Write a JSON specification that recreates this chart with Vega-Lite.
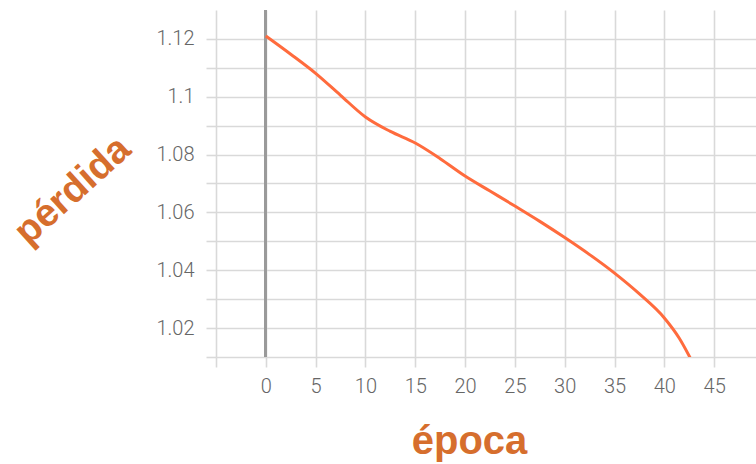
{
  "$schema": "https://vega.github.io/schema/vega-lite/v6.json",
  "autosize": {"type": "none"},
  "padding": {"left": 216, "top": 10, "right": 0, "bottom": 107},
  "width": 540,
  "height": 347,
  "config": {"view": {"stroke": null}},
  "data": {"values": [
    {"epoca": 0, "perdida": 1.1210},
    {"epoca": 2.5, "perdida": 1.1147},
    {"epoca": 5, "perdida": 1.1081},
    {"epoca": 7.5, "perdida": 1.1005},
    {"epoca": 10, "perdida": 1.0930},
    {"epoca": 12.5, "perdida": 1.0880},
    {"epoca": 15, "perdida": 1.0840},
    {"epoca": 17.5, "perdida": 1.0786},
    {"epoca": 20, "perdida": 1.0726},
    {"epoca": 22.5, "perdida": 1.0674},
    {"epoca": 25, "perdida": 1.0622},
    {"epoca": 27.5, "perdida": 1.0569},
    {"epoca": 30, "perdida": 1.0513},
    {"epoca": 32.5, "perdida": 1.0454},
    {"epoca": 35, "perdida": 1.0390},
    {"epoca": 37.5, "perdida": 1.0318},
    {"epoca": 40, "perdida": 1.0235},
    {"epoca": 41.5, "perdida": 1.0165},
    {"epoca": 43, "perdida": 1.0070}
  ]},
  "layer": [
    {
      "mark": {"type": "rule", "color": "#9a9a9a", "strokeWidth": 2},
      "encoding": {"x": {"datum": 0, "type": "quantitative"}}
    },
    {
      "mark": {"type": "line", "color": "#FF6B3D", "strokeWidth": 3, "interpolate": "monotone", "clip": true},
      "encoding": {
        "x": {
          "field": "epoca", "type": "quantitative",
          "scale": {"domain": [-5, 49.2], "nice": false, "zero": false},
          "axis": {
            "title": "época",
            "values": [-5, 0, 5, 10, 15, 20, 25, 30, 35, 40, 45],
            "labelExpr": "datum.value < 0 ? '' : datum.label",
            "domain": false,
            "grid": true, "gridColor": "#d9d9d9", "gridWidth": 1.6,
            "tickColor": "#d9d9d9", "tickWidth": 1.6, "tickSize": 10,
            "labelFont": "Roboto", "labelFontWeight": 300, "labelFontSize": 20, "labelColor": "#666666", "labelPadding": 9,
            "titleFont": "Liberation Sans", "titleFontWeight": "bold", "titleFontSize": 40, "titleColor": "#D66E2D",
            "titleX": 253, "titleY": 96, "titleAlign": "center", "titleBaseline": "alphabetic"
          }
        },
        "y": {
          "field": "perdida", "type": "quantitative",
          "scale": {"domain": [1.01, 1.13], "nice": false, "zero": false},
          "axis": {
            "title": "pérdida",
            "values": [1.01, 1.02, 1.03, 1.04, 1.05, 1.06, 1.07, 1.08, 1.09, 1.1, 1.11, 1.12],
            "labelExpr": "round(datum.value*100) % 2 == 0 ? toString(round(datum.value*100)/100) : ''",
            "domain": false,
            "grid": true, "gridColor": "#d9d9d9", "gridWidth": 1.6,
            "tickColor": "#d9d9d9", "tickWidth": 1.6, "tickSize": 10,
            "labelFont": "Roboto", "labelFontWeight": 300, "labelFontSize": 20, "labelColor": "#666666", "labelPadding": 12,
            "titleFont": "Liberation Sans", "titleFontWeight": "bold", "titleFontSize": 39, "titleColor": "#D66E2D",
            "titleX": -144, "titleY": 180, "titleAngle": 318, "titleAlign": "center", "titleBaseline": "middle"
          }
        }
      }
    }
  ]
}
